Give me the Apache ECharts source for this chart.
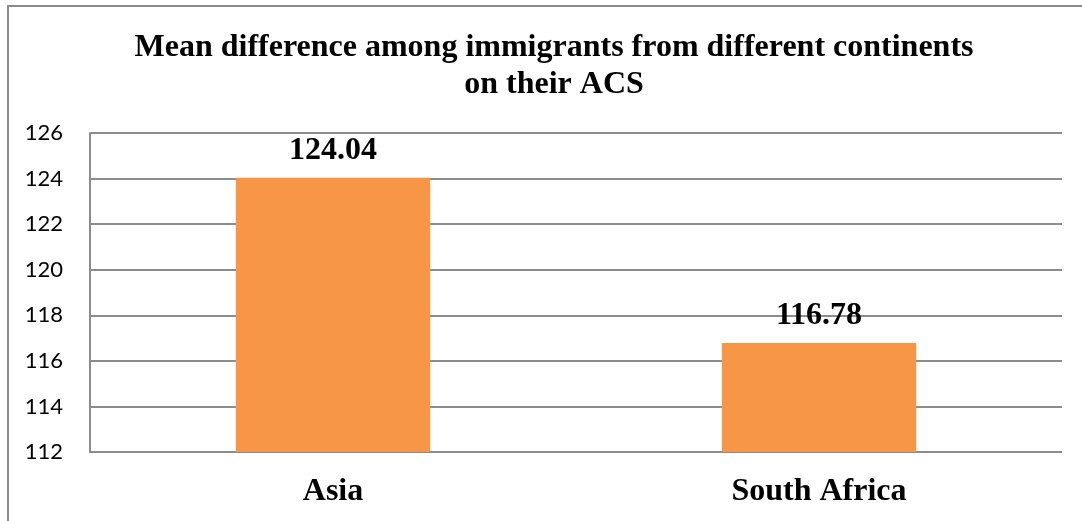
<!DOCTYPE html>
<html>
<head>
<meta charset="utf-8">
<style>
  html, body { margin: 0; padding: 0; background: #fff; }
  #frame { position: absolute; left: 7px; top: 5px; width: 1100px; height: 540px;
           border: 2px solid #8c8c8c; box-sizing: border-box; }
  #chart { position: absolute; left: 0; top: 0; width: 1082px; height: 521px; }
</style>
<script src="https://cdn.jsdelivr.net/npm/echarts@6/dist/echarts.min.js"></script>
</head>
<body>
<div id="frame"></div>
<div id="chart"></div>
<script>
const categories = ['Asia', 'South Africa'];
const meanValues = [124.04, 116.78];
const yTicks = [112, 114, 116, 118, 120, 122, 124, 126];

const chart = echarts.init(document.getElementById('chart'));
chart.setOption({
  animation: false,
  title: {
    text: 'Mean difference among immigrants from different continents\non their ACS',
    left: 549,
    top: 24,
    textAlign: 'center',
    textStyle: {
      fontFamily: 'Liberation Serif',
      fontWeight: 'bold',
      fontSize: 32,
      lineHeight: 37,
      color: '#000'
    }
  },
  grid: { left: 90, right: 20, top: 133, bottom: 69 },
  xAxis: {
    type: 'category',
    data: categories,
    axisLine: { show: false },
    axisTick: { show: false },
    axisLabel: {
      margin: 24,
      fontFamily: 'Liberation Serif',
      fontWeight: 'bold',
      fontSize: 32,
      color: '#000'
    }
  },
  yAxis: {
    type: 'value',
    min: yTicks[0],
    max: yTicks[yTicks.length - 1],
    interval: 2,
    axisLine: { show: true, lineStyle: { color: '#8c8c8c', width: 2 } },
    axisTick: { show: false },
    splitLine: { lineStyle: { color: '#8c8c8c', width: 2 } },
    axisLabel: {
      margin: 27,
      fontFamily: 'Lato',
      fontSize: 22,
      color: '#000'
    }
  },
  series: [{
    type: 'bar',
    data: meanValues,
    barWidth: '40%',
    itemStyle: { color: '#F79646' },
    label: {
      show: true,
      position: 'top',
      distance: 11,
      formatter: p => p.value.toFixed(2),
      fontFamily: 'Liberation Serif',
      fontWeight: 'bold',
      fontSize: 32,
      color: '#000'
    }
  }]
});
</script>
</body>
</html>
